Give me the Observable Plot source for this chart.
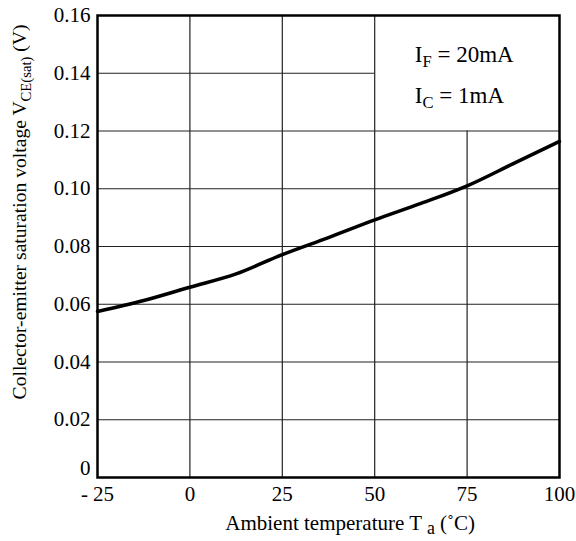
<!DOCTYPE html>
<html>
<head>
<meta charset="utf-8">
<script src="https://cdn.jsdelivr.net/npm/d3@7"></script>
<script src="https://cdn.jsdelivr.net/npm/@observablehq/plot@0.6"></script>
<style>
  html, body { margin: 0; padding: 0; background: white; }
  svg { display: block; }
</style>
</head>
<body>
<div id="chart"></div>
<script>
// Data
const temps = [-25, -12.5, 0, 12.5, 25, 37.5, 50, 62.5, 75, 87.5, 100];
const vce   = [0.0575, 0.0613, 0.0659, 0.0705, 0.0772, 0.0831, 0.0892, 0.0949, 0.1010, 0.1087, 0.1164];
const xTicks = [-25, 0, 25, 50, 75, 100];
const yTicks = [0, 0.02, 0.04, 0.06, 0.08, 0.10, 0.12, 0.14, 0.16];
const condLines = [["I", "F", " = 20mA"], ["I", "C", " = 1mA"]];

const curve = temps.map((t, i) => ({t, v: vce[i]}));
// grid: annotation box occupies x 50..100, y 0.12..0.16
const vGrid = [
  {x: 0, y1: 0, y2: 0.16},
  {x: 25, y1: 0, y2: 0.16},
  {x: 50, y1: 0, y2: 0.16},
  {x: 75, y1: 0, y2: 0.12}
];
const hGrid = [
  ...[0.02, 0.04, 0.06, 0.08, 0.10, 0.12].map(y => ({y, x1: -25, x2: 100})),
  {y: 0.14, x1: -25, x2: 50}
];

const font = "Liberation Serif";
const fs = 21;
const xFmt = d => d < 0 ? "- " + Math.abs(d) : String(d);
const yFmt = d => d === 0 ? "0" : d.toFixed(2);

const plot = Plot.plot({
  width: 576,
  height: 541,
  marginLeft: 97,
  marginRight: 17,
  marginTop: 15,
  marginBottom: 64,
  style: {fontSize: fs + "px", color: "black", background: "white", fontFamily: font},
  x: {domain: [-25, 100], axis: null},
  y: {domain: [0, 0.16], axis: null},
  marks: [
    Plot.ruleX(vGrid, {x: "x", y1: "y1", y2: "y2", stroke: "#222", strokeWidth: 1.2}),
    Plot.ruleY(hGrid, {y: "y", x1: "x1", x2: "x2", stroke: "#222", strokeWidth: 1.2}),
    // x tick labels
    Plot.text(xTicks, {x: d => d, text: xFmt, frameAnchor: "bottom", lineAnchor: "top",
      dy: 9, fontFamily: font, fontSize: fs, fill: "black"}),
    // y tick labels (the "0" label sits a little higher, as in the reference)
    Plot.text(yTicks.filter(d => d !== 0), {y: d => d, text: yFmt, frameAnchor: "left",
      textAnchor: "end", dx: -7, fontFamily: font, fontSize: fs, fill: "black"}),
    Plot.text(yTicks.filter(d => d === 0), {y: d => d, text: yFmt, frameAnchor: "left",
      textAnchor: "end", dx: -7, dy: -9, fontFamily: font, fontSize: fs, fill: "black"}),
    Plot.line(curve, {x: "t", y: "v", stroke: "black", strokeWidth: 3.5, curve: "monotone-x"}),
    Plot.frame({stroke: "black", strokeWidth: 2.5})
  ]
});

document.getElementById("chart").appendChild(plot);

const svg = d3.select(plot);
const xs = plot.scale("x"), ys = plot.scale("y");

// Condition annotation
const ann = svg.append("g").attr("font-family", font).attr("font-size", fs + 2)
  .attr("fill", "black").attr("text-anchor", "start");
condLines.forEach((parts, i) => {
  const t = ann.append("text")
    .attr("x", xs.apply(61.0))
    .attr("y", ys.apply(0.1438 - i * 0.0143));
  t.append("tspan").text(parts[0]);
  t.append("tspan").attr("dy", 5).attr("font-size", (fs + 2) * 0.72).text(parts[1]);
  t.append("tspan").attr("dy", -5).text(parts[2]);
});

// X axis label
const xl = svg.append("text")
  .attr("x", xs.apply(43.5))
  .attr("y", 530)
  .attr("text-anchor", "middle")
  .attr("font-family", font).attr("font-size", fs).attr("fill", "black");
xl.append("tspan").text("Ambient temperature T ");
xl.append("tspan").attr("dy", 4).attr("font-size", fs * 0.85).text("a");
xl.append("tspan").attr("dy", -4).text(" (˚C)");

// Y axis label
const yl = svg.append("text")
  .attr("transform", `translate(26,${ys.apply(0.0918)}) rotate(-90)`)
  .attr("text-anchor", "middle")
  .attr("font-family", font).attr("font-size", 19.6).attr("fill", "black");
yl.append("tspan").text("Collector-emitter saturation voltage V");
yl.append("tspan").attr("dy", 5).attr("font-size", 19.6 * 0.75).text("CE(sat)");
yl.append("tspan").attr("dy", -5).text(" (V)");
</script>
</body>
</html>
